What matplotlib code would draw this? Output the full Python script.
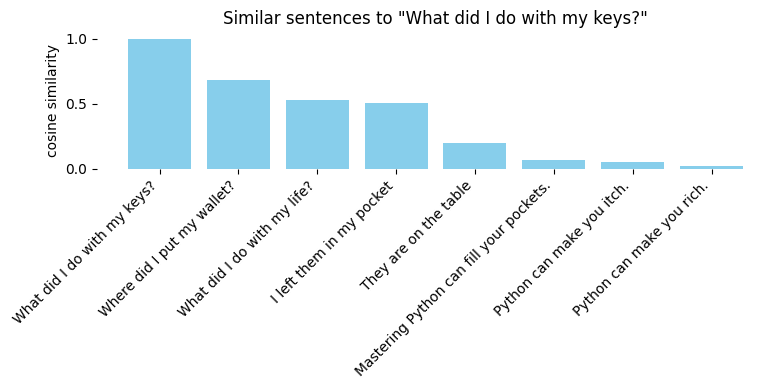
import numpy as np
import matplotlib
matplotlib.use("Agg")
import matplotlib.pyplot as plt

# Sentences and their cosine similarity to the query
query = "What did I do with my keys?"
sentences = [
    "What did I do with my keys?",
    "Where did I put my wallet?",
    "What did I do with my life?",
    "I left them in my pocket",
    "They are on the table",
    "Mastering Python can fill your pockets.",
    "Python can make you itch.",
    "Python can make you rich.",
]
similarity = [1.0, 0.685, 0.53, 0.51, 0.20, 0.07, 0.055, 0.025]

fig, ax = plt.subplots(figsize=(7.84, 3.9), dpi=100)
ax.bar(sentences, similarity, color='skyblue')

ax.set_title(f'Similar sentences to "{query}"')
ax.set_ylabel('cosine similarity')
ax.set_yticks([0.0, 0.5, 1.0])
plt.xticks(rotation=45, ha='right')

for s in ax.spines.values():
    s.set_visible(False)

fig.subplots_adjust(left=0.124, right=0.987, top=0.917, bottom=0.567)
plt.savefig('out.png')
